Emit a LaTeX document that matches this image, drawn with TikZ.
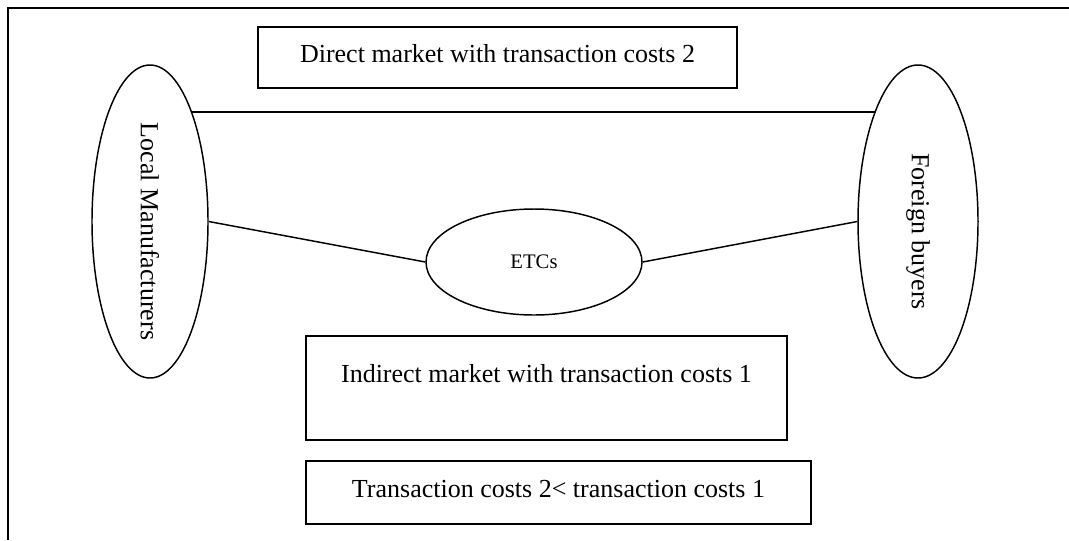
\documentclass[tikz,border=0pt]{standalone}
\usepackage{fontspec}
\setmainfont{Liberation Serif}
\usetikzlibrary{shapes.geometric}
\tikzset{
  party/.style={draw, line width=1.1pt, ellipse, inner sep=0pt, font=\fontsize{19.5pt}{22pt}\selectfont},
  hub/.style={draw, line width=1.1pt, ellipse, inner sep=0pt, font=\fontsize{15.5pt}{18pt}\selectfont},
  marketbox/.style={draw, line width=1.1pt, rectangle, inner xsep=0pt, inner ysep=0pt, font=\fontsize{19.5pt}{22pt}\selectfont},
  link/.style={line width=1.1pt},
  frame/.style={line width=1.5pt}
}
% vertical label, read top to bottom, set a little below the middle
\newcommand{\sidelabel}[1]{\rotatebox{-90}{\raisebox{-2pt}{\makebox[0pt]{\hspace*{15pt}#1}}}}
\begin{document}
\begin{tikzpicture}[x=0.75pt,y=-0.75pt]
\useasboundingbox[fill=white] (0,0) rectangle (1069,540);

% outer frame (top and left edges)
\draw[frame] (1069,8) -- (8,8) -- (8,540);

% market participants
\node[party, minimum width=116*0.75pt, minimum height=313*0.75pt] (local) at (150,221.5)
  {\sidelabel{Local Manufacturers}};
\node[party, minimum width=120*0.75pt, minimum height=313*0.75pt] (foreign) at (918,221.5)
  {\sidelabel{Foreign buyers}};
\node[hub, minimum width=216*0.75pt, minimum height=106*0.75pt] (etcs) at (534,262) {ETCs};

% market descriptions
\node[marketbox, minimum width=479*0.75pt, text height=35.5*0.75pt, text depth=25.5*0.75pt] (direct) at (497.5,57.5)
  {Direct market with transaction costs 2};
\node[marketbox, minimum width=481*0.75pt, text height=46*0.75pt, text depth=58*0.75pt] (indirect) at (546.5,388)
  {Indirect market with transaction costs 1};
\node[marketbox, minimum width=505*0.75pt, text height=36*0.75pt, text depth=27*0.75pt] (compare) at (558.5,492.5)
  {Transaction costs 2< transaction costs 1};

% trade channels
\draw[link] (local.69.3) -- (foreign.111.4 |- local.69.3);
\draw[link] (local.east) -- (etcs.west);
\draw[link] (etcs.east) -- (foreign.west);
\end{tikzpicture}
\end{document}
